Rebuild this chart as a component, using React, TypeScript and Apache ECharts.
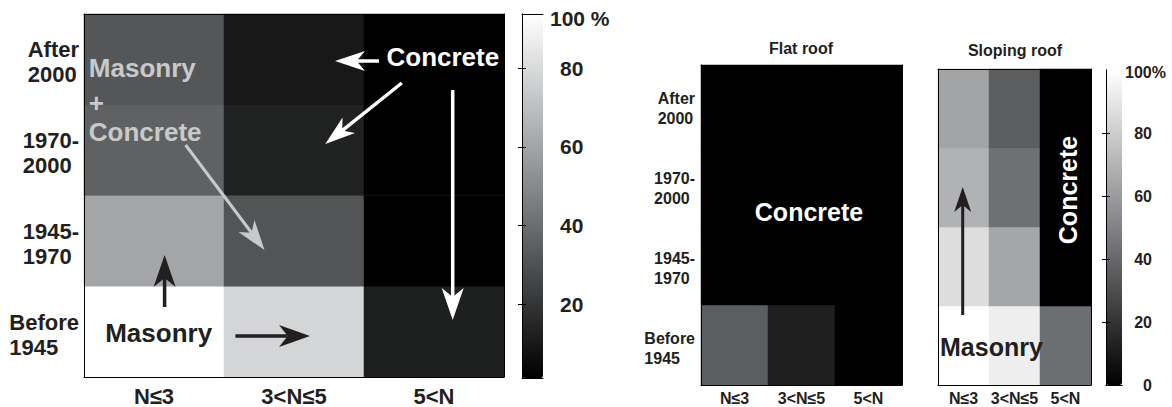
import React, { useEffect, useRef } from "react";
import * as echarts from "echarts";

// ---------- data ----------
const columns = ["N≤3", "3<N≤5", "5<N"];
const periods = ["Before\n1945", "1945-\n1970", "1970-\n2000", "After\n2000"]; // bottom -> top

// share (%) per period row (bottom -> top), per column
const allBuildings = [
  [93.8, 78.2, 12.1],
  [60.4, 31.0, 1.2],
  [35.7, 12.8, 1.2],
  [32.0, 9.9, 1.2],
];
const flatRoof = [
  [35.7, 12.0, 0],
  [0, 0, 0],
  [0, 0, 0],
  [0, 0, 0],
];
const slopingRoof = [
  [100, 93.3, 42.3],
  [86.5, 64.5, 0],
  [69.0, 43.0, 0],
  [63.5, 36.0, 0],
];
const leftScale = [1.2, 93.8];
const rightScale = [0, 100];
const leftTicks = [20, 40, 60, 80];
const rightLabels = [0, 20, 40, 60, 80];
const rightTicks = [20, 40, 60, 80];

const FONT = '"Liberation Sans", Arial, Helvetica, sans-serif';
const INK = "#231f20";
const GRAY = ["#000000", "#808285", "#ffffff"];

const toCells = (m: number[][]) => {
  const out: number[][] = [];
  m.forEach((row, yi) => row.forEach((v, xi) => out.push([xi, yi, v])));
  return out;
};

const measure = (s: string, size: number) => {
  const c = document.createElement("canvas").getContext("2d");
  if (!c) return s.length * size * 0.6;
  c.font = `bold ${size}px ${FONT}`;
  return c.measureText(s).width;
};

const blockLabel = (size: number, lh: number, margin: number, show: boolean) => {
  const rich: any = {};
  periods.forEach((p, i) => {
    const w = Math.max(...p.split("\n").map((l) => measure(l, size))) + 1;
    rich["r" + i] = {
      width: w,
      align: "left",
      fontSize: size,
      fontWeight: "bold",
      fontFamily: FONT,
      color: INK,
      lineHeight: lh,
    };
  });
  return {
    show,
    margin,
    interval: 0,
    padding: [6, 0, 0, 0],
    formatter: (v: string) => {
      const i = periods.indexOf(v);
      return v
        .split("\n")
        .map((l) => `{r${i}|${l}}`)
        .join("\n");
    },
    rich,
  };
};

const line = { lineStyle: { color: "#000", width: 1 } };

function heatAxes(gi: number, size: number, lh: number, xm: number, ym: number, yLabels: boolean) {
  const tick = { inside: true, alignWithLabel: true, length: 4, interval: 0, lineStyle: { color: "#000" } };
  const xs = [
    {
      type: "category", gridIndex: gi, data: columns, position: "bottom", z: 10,
      axisLine: line, axisTick: tick, splitLine: { show: false },
      axisLabel: { margin: xm, interval: 0, hideOverlap: false, fontSize: size, fontWeight: "bold", color: INK, fontFamily: FONT },
    },
    {
      type: "category", gridIndex: gi, data: columns, position: "top", z: 10,
      axisLine: line, axisTick: tick, splitLine: { show: false }, axisLabel: { show: false },
    },
  ];
  const ys = [
    {
      type: "category", gridIndex: gi, data: periods, position: "left", z: 10,
      axisLine: line, axisTick: tick, splitLine: { show: false },
      axisLabel: blockLabel(size, lh, ym, yLabels),
    },
    {
      type: "category", gridIndex: gi, data: periods, position: "right", z: 10,
      axisLine: line, axisTick: tick, splitLine: { show: false }, axisLabel: { show: false },
    },
  ];
  return { xs, ys };
}

function barAxes(gi: number, range: number[], labels: number[], ticks: number[], size: number, margin: number, align: string) {
  const xs = ["bottom", "top"].map((pos) => ({
    type: "value", gridIndex: gi, position: pos, min: 0, max: 1, z: 10,
    axisLine: { show: true, ...line }, axisTick: { show: false }, axisLabel: { show: false }, splitLine: { show: false },
  }));
  const tick = { show: true, inside: true, length: 4, customValues: ticks, lineStyle: { color: "#000" } };
  const ys = [
    {
      type: "value", gridIndex: gi, position: "left", min: range[0], max: range[1], z: 10,
      axisLine: { show: true, ...line }, axisTick: tick, axisLabel: { show: false }, splitLine: { show: false },
    },
    {
      type: "value", gridIndex: gi, position: "right", min: range[0], max: range[1], z: 10,
      axisLine: { show: true, ...line }, axisTick: tick, splitLine: { show: false },
      axisLabel: {
        customValues: labels, margin, align, fontSize: size, fontWeight: "bold", color: INK, fontFamily: FONT,
      },
    },
  ];
  return { xs, ys };
}

function arrow(x1: number, y1: number, x2: number, y2: number, color: string, lw: number, hl: number, hw: number) {
  const dx = x2 - x1, dy = y2 - y1;
  const L = Math.hypot(dx, dy);
  const ux = dx / L, uy = dy / L, px = -uy, py = ux;
  const bx = x2 - ux * hl, by = y2 - uy * hl;
  const nx = x2 - ux * hl * 0.72, ny = y2 - uy * hl * 0.72;
  return [
    { type: "line", z: 100, shape: { x1, y1, x2: nx, y2: ny }, style: { stroke: color, lineWidth: lw } },
    {
      type: "polygon", z: 100,
      shape: { points: [[x2, y2], [bx + (px * hw) / 2, by + (py * hw) / 2], [nx, ny], [bx - (px * hw) / 2, by - (py * hw) / 2]] },
      style: { fill: color },
    },
  ];
}

const txt = (text: string, x: number, y: number, size: number, fill: string, align = "left", rotation = 0) => ({
  type: "text", z: 101, x, y, rotation,
  style: { text, fill, font: `bold ${size}px ${FONT}`, align, verticalAlign: "middle" },
});

export default function App() {
  const ref = useRef<HTMLDivElement>(null);
  useEffect(() => {
    if (!ref.current) return;
    const chart = echarts.init(ref.current, undefined, { renderer: "svg" });

    const a0 = heatAxes(0, 22, 25, 8, 4, true);
    const a1 = barAxes(1, leftScale, leftTicks, leftTicks, 21, 17, "left");
    const a2 = heatAxes(2, 16, 20, 5, 5, true);
    const a3 = heatAxes(3, 16, 20, 5, 5, false);
    const a4 = barAxes(4, rightScale, rightLabels, rightTicks, 16, 30, "right");

    const lightGray = "#c8c9cb";
    const graphics: any[] = [
      txt("Masonry", 88.8, 68, 26, lightGray),
      txt("+", 88.8, 103, 26, lightGray),
      txt("Concrete", 88.8, 132, 26, lightGray),
      txt("Concrete", 386.5, 57, 26, "#ffffff"),
      txt("Masonry", 105.2, 333, 26, INK),
      ...arrow(379, 61, 335, 61, "#ffffff", 3.5, 30, 20),
      ...arrow(401.8, 83, 325.3, 144, "#ffffff", 3.5, 30, 20),
      ...arrow(452.7, 90, 452.7, 320, "#ffffff", 3.5, 32, 22),
      ...arrow(185.6, 145, 264.5, 250, lightGray, 3, 30, 20),
      ...arrow(164.6, 307, 164.6, 255, INK, 3.5, 32, 22),
      ...arrow(235.4, 336, 310, 336, INK, 3.5, 31, 22),
      txt("100 %", 550, 18, 21, INK),
      txt("Concrete", 809, 212, 25, "#ffffff", "center"),
      txt("Masonry", 940, 346.7, 25, INK),
      txt("Concrete", 1068, 190, 25, "#ffffff", "center", Math.PI / 2),
      ...arrow(962.7, 315, 962.7, 187, INK, 3, 25, 17),
      txt("100%", 1125, 72, 16, INK),
    ];

    chart.setOption({
      animation: false,
      backgroundColor: "#ffffff",
      title: [
        { text: "Flat roof", left: 801, top: 40, textAlign: "center", padding: 0,
          textStyle: { fontSize: 16, fontWeight: "bold", color: INK, fontFamily: FONT } },
        { text: "Sloping roof", left: 1015, top: 42.5, textAlign: "center", padding: 0,
          textStyle: { fontSize: 16, fontWeight: "bold", color: INK, fontFamily: FONT } },
      ],
      grid: [
        { left: 84, top: 14, width: 420, height: 364 },
        { left: 522, top: 14, width: 21, height: 364 },
        { left: 701, top: 65, width: 201, height: 320 },
        { left: 938, top: 69, width: 153, height: 316 },
        { left: 1106, top: 70, width: 16, height: 315 },
      ],
      xAxis: [...a0.xs, ...a1.xs, ...a2.xs, ...a3.xs, ...a4.xs],
      yAxis: [...a0.ys, ...a1.ys, ...a2.ys, ...a3.ys, ...a4.ys],
      visualMap: [
        {
          type: "continuous", seriesIndex: 0, min: leftScale[0], max: leftScale[1],
          inRange: { color: GRAY }, calculable: false, hoverLink: false, text: null as any,
          left: 522, top: 14, itemWidth: 21, itemHeight: 364, padding: 0, orient: "vertical",
        },
        {
          type: "continuous", seriesIndex: [1, 2], min: rightScale[0], max: rightScale[1],
          inRange: { color: GRAY }, calculable: false, hoverLink: false, text: null as any,
          left: 1106, top: 70, itemWidth: 16, itemHeight: 315, padding: 0, orient: "vertical",
        },
      ],
      series: [
        { type: "heatmap", xAxisIndex: 0, yAxisIndex: 0, data: toCells(allBuildings), emphasis: { disabled: true } },
        { type: "heatmap", xAxisIndex: 4, yAxisIndex: 4, data: toCells(flatRoof), emphasis: { disabled: true } },
        { type: "heatmap", xAxisIndex: 6, yAxisIndex: 6, data: toCells(slopingRoof), emphasis: { disabled: true } },
      ],
      graphic: graphics,
    });
    return () => chart.dispose();
  }, []);
  return <div ref={ref} style={{ position: "absolute", left: 0, top: 0, width: 1172, height: 407 }} />;
}
